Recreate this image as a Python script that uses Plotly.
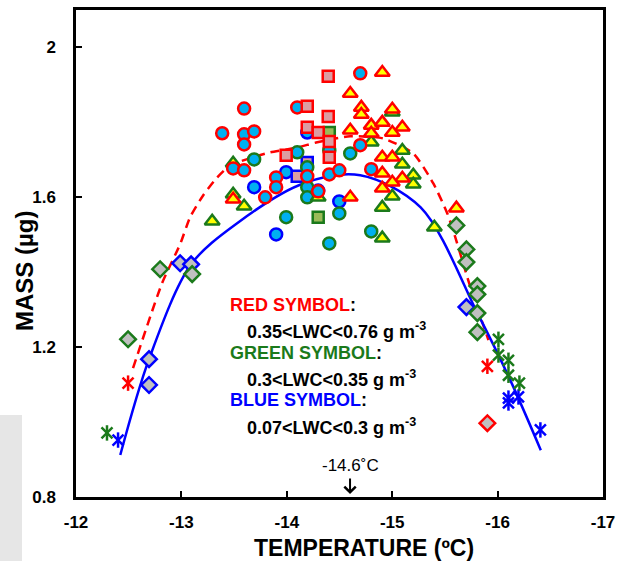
import plotly.graph_objects as go

# ---------------- data ----------------
red_circle_x = [-13.595, -14.099, -14.697, -13.387, -13.595, -13.690, -13.595, -14.697, -14.801,
                -13.491, -13.595, -13.899, -13.899, -13.795, -14.194, -14.403, -14.498, -14.298]
red_circle_y = [1.837, 1.840, 1.931, 1.771, 1.768, 1.776, 1.741, 1.739, 1.675,
                1.677, 1.672, 1.653, 1.627, 1.600, 1.656, 1.661, 1.672, 1.616]

red_square_x = [-14.393, -14.194, -14.393, -14.194, -14.298, -14.403, -13.994, -14.403]
red_square_y = [1.923, 1.843, 1.816, 1.787, 1.773, 1.749, 1.712, 1.707]

red_tri_x = [-14.906, -14.602, -14.707, -14.707, -15.001, -14.602, -14.801, -14.906, -15.096, -14.801,
             -15.001, -14.906, -15.001, -14.906, -15.096, -15.001, -14.906, -14.602, -13.491, -15.609]
red_tri_y = [1.933, 1.877, 1.840, 1.821, 1.835, 1.779, 1.792, 1.800, 1.787, 1.771,
             1.773, 1.707, 1.707, 1.664, 1.651, 1.640, 1.624, 1.600, 1.595, 1.571]

red_diamond_x = [-15.903]
red_diamond_y = [0.997]
red_star_x = [-12.494, -15.903]
red_star_y = [1.104, 1.149]

green_tri_x = [-15.001, -14.801, -15.096, -15.096, -15.200, -15.200, -15.001, -14.906, -14.906, -15.400,
               -13.491, -13.491, -13.595, -13.292, -14.298]
green_tri_y = [1.827, 1.747, 1.725, 1.688, 1.659, 1.635, 1.603, 1.573, 1.491, 1.520,
               1.691, 1.608, 1.576, 1.536, 1.600]

green_circle_x = [-14.099, -14.403, -14.602, -13.690, -14.194, -14.194, -14.194, -13.994, -14.498, -14.801, -14.403]
green_circle_y = [1.720, 1.725, 1.717, 1.701, 1.680, 1.627, 1.600, 1.547, 1.557, 1.509, 1.477]

green_square_x = [-14.403, -14.298]
green_square_y = [1.773, 1.547]

green_diamond_x = [-12.798, -13.102, -12.494, -15.609, -15.704, -15.704, -15.808, -15.808, -15.808, -15.808]
green_diamond_y = [1.408, 1.395, 1.221, 1.525, 1.461, 1.427, 1.363, 1.341, 1.291, 1.240]

green_star_x = [-12.294, -16.008, -16.008, -16.103, -16.103, -16.207]
green_star_y = [0.971, 1.221, 1.179, 1.165, 1.125, 1.104]

blue_circle_x = [-13.994, -13.690, -14.498, -13.899, -14.194, -14.298]
blue_circle_y = [1.667, 1.627, 1.589, 1.501, 1.773, 1.618]

blue_square_x = [-14.194, -14.099]
blue_square_y = [1.693, 1.656]

blue_diamond_x = [-12.988, -13.092, -12.693, -12.693, -15.704]
blue_diamond_y = [1.424, 1.421, 1.168, 1.099, 1.307]

blue_star_x = [-12.399, -16.103, -16.103, -16.198, -16.406]
blue_star_y = [0.952, 1.064, 1.051, 1.067, 0.979]

blue_fit_x = [-12.42, -12.693, -13.092, -13.529, -14.156, -14.697, -15.27, -15.81, -16.12, -16.41]
blue_fit_y = [0.912, 1.168, 1.421, 1.531, 1.637, 1.659, 1.573, 1.290, 1.112, 0.925]

red_fit_x = [-12.541, -12.817, -12.988, -13.083, -13.206, -13.339, -13.462, -13.681, -13.842, -14.099,
             -14.289, -14.602, -14.915, -15.200, -15.390, -15.523, -15.599, -15.742, -15.913]
red_fit_y = [1.144, 1.371, 1.475, 1.547, 1.605, 1.653, 1.685, 1.707, 1.720, 1.733,
             1.747, 1.763, 1.757, 1.717, 1.637, 1.557, 1.493, 1.360, 1.219]

x_ticks = [-12, -13, -14, -15, -16, -17]
y_ticks = [0.8, 1.2, 1.6, 2.0]
y_tick_text = ["0.8", "1.2", "1.6", "2"]
peak_temp = -14.6

# ---------------- styling ----------------
RED = "#ff0000"
GREEN = "#1b7a1b"
BLUE = "#0000ff"
CYAN = "#00b0f0"
YELLOW = "#ffff00"
PINK = "#dc9ca2"
OLIVE = "#9bbb59"
GRAY = "#c0c0c0"
FONT = "Liberation Sans, Arial, sans-serif"

fig = go.Figure()

fig.add_trace(go.Scatter(x=red_fit_x, y=red_fit_y, mode="lines",
                         line=dict(color=RED, width=2.5, dash="9px,6px", shape="spline", smoothing=0.6),
                         hoverinfo="skip"))
fig.add_trace(go.Scatter(x=blue_fit_x, y=blue_fit_y, mode="lines",
                         line=dict(color=BLUE, width=2.5, shape="spline", smoothing=0.9),
                         hoverinfo="skip"))


def mk(x, y, symbol, fill, edge, size=12, lw=2.5):
    fig.add_trace(go.Scatter(x=x, y=y, mode="markers",
                             marker=dict(symbol=symbol, size=size, color=fill,
                                         line=dict(color=edge, width=lw))))


def star(x, y, color):
    for sym in ("x-thin-open", "line-ns-open"):
        fig.add_trace(go.Scatter(x=x, y=y, mode="markers",
                                 marker=dict(symbol=sym, size=11, color=color,
                                             line=dict(color=color, width=2.5))))


# blue group (bottom)
mk(blue_circle_x, blue_circle_y, "circle", CYAN, BLUE)
mk(blue_square_x, blue_square_y, "square", PINK, BLUE, size=11)
mk(blue_diamond_x, blue_diamond_y, "diamond", GRAY, BLUE, size=12)
star(blue_star_x, blue_star_y, BLUE)
# green group
mk(green_circle_x, green_circle_y, "circle", CYAN, GREEN)
mk(green_square_x, green_square_y, "square", OLIVE, GREEN, size=11)
mk(green_tri_x, green_tri_y, "triangle-up", YELLOW, GREEN, size=13)
mk(green_diamond_x, green_diamond_y, "diamond", GRAY, GREEN, size=12)
star(green_star_x, green_star_y, GREEN)
# red group (top)
mk(red_circle_x, red_circle_y, "circle", CYAN, RED)
mk(red_square_x, red_square_y, "square", PINK, RED, size=11)
mk(red_tri_x, red_tri_y, "triangle-up", YELLOW, RED, size=13)
mk(red_diamond_x, red_diamond_y, "diamond", GRAY, RED, size=12)
star(red_star_x, red_star_y, RED)

# ---------------- annotations ----------------
ann = []
legend_lines = [
    ("<span style='color:%s'>RED SYMBOL</span>:" % RED, -13.443, 1.312),
    ("0.35&lt;LWC&lt;0.76 g m<sup>-3</sup>", -13.605, 1.245),
    ("<span style='color:%s'>GREEN SYMBOL</span>:" % GREEN, -13.443, 1.184),
    ("0.3&lt;LWC&lt;0.35 g m<sup>-3</sup>", -13.605, 1.117),
    ("<span style='color:%s'>BLUE SYMBOL</span>:" % BLUE, -13.443, 1.059),
    ("0.07&lt;LWC&lt;0.3 g m<sup>-3</sup>", -13.605, 0.987),
]
for txt, xx, yy in legend_lines:
    ann.append(dict(x=xx, y=yy, xref="x", yref="y", text="<b>%s</b>" % txt, showarrow=False,
                    xanchor="left", yanchor="middle", font=dict(family=FONT, size=18, color="black")))

ann.append(dict(x=peak_temp, y=0.808, xref="x", yref="y", text="", showarrow=True,
                ax=0, ay=-17, arrowhead=4, arrowsize=1.1, arrowwidth=2, arrowcolor="black"))
ann.append(dict(x=peak_temp, y=0.883, xref="x", yref="y", text="-14.6˚C", showarrow=False,
                xanchor="center", yanchor="middle", font=dict(family=FONT, size=17, color="black")))

# axis titles
ann.append(dict(x=(364 - 76) / 527, y=(497 - 548) / 487, xref="paper", yref="paper",
                text="<b>TEMPERATURE (ºC)</b>", showarrow=False, xanchor="center", yanchor="middle",
                font=dict(family=FONT, size=23, color="black")))
ann.append(dict(x=(24 - 76) / 527, y=(497 - 271) / 487, xref="paper", yref="paper",
                text="<b>MASS (µg)</b>", showarrow=False, textangle=-90, xanchor="center", yanchor="middle",
                font=dict(family=FONT, size=24, color="black")))

fig.update_layout(
    width=618, height=561,
    margin=dict(l=76, r=15, t=10, b=64, autoexpand=False),
    paper_bgcolor="white", plot_bgcolor="white",
    showlegend=False,
    annotations=ann,
    shapes=[dict(type="rect", xref="paper", yref="paper",
                 x0=(0 - 76) / 527, x1=(22 - 76) / 527, y0=(497 - 561) / 487, y1=(497 - 415) / 487,
                 fillcolor="#e6e6e6", line=dict(width=0), layer="below")],
    xaxis=dict(range=[-12, -17], autorange=False, tickvals=x_ticks, ticktext=[str(v) for v in x_ticks],
               showgrid=False, zeroline=False, showline=True, linecolor="black", linewidth=2.5,
               mirror=True, ticks="inside", ticklen=6, tickwidth=2, tickcolor="black", automargin=False,
               tickfont=dict(family=FONT, size=17, color="black", weight="bold"),
               ticklabelstandoff=8),
    yaxis=dict(range=[0.8, 2.1], autorange=False, tickvals=y_ticks, ticktext=y_tick_text,
               showgrid=False, zeroline=False, showline=True, linecolor="black", linewidth=2.5,
               mirror=True, ticks="inside", ticklen=6, tickwidth=2, tickcolor="black", automargin=False,
               tickfont=dict(family=FONT, size=17, color="black", weight="bold"),
               ticklabelstandoff=14),
)

fig.write_html("out.html", config={"displayModeBar": False},
               post_script="document.body.style.margin='0px';document.body.style.overflow='hidden';")
